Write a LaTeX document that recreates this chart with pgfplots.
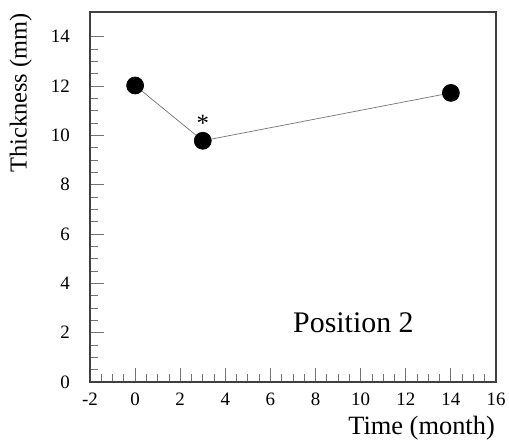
\documentclass[border=0pt]{standalone}
\usepackage{fontspec}
\setmainfont{Liberation Serif}
\usepackage{pgfplots}
\pgfplotsset{compat=1.18}
\newcommand\tlfont{\fontsize{19}{19}\selectfont}
\begin{document}
\begin{tikzpicture}
\begin{axis}[
  name=ax, scale only axis, width=406bp, height=370bp,
  xmin=-2, xmax=16, ymin=0, ymax=15,
  xtick={-2,0,...,16}, ytick={0,2,...,14},
  minor x tick num=3, minor y tick num=3,
  tick pos=left, tick align=inside,
  major tick length=14bp, minor tick length=8bp,
  every tick/.style={black!55, line width=0.8bp},
  axis line style={black!75, line width=1.3bp},
  /pgf/number format/assume math mode=true,
  xticklabel={\tlfont\pgfmathprintnumber{\tick}},
  yticklabel={\tlfont\pgfmathprintnumber{\tick}},
  tick label style={inner sep=0pt},
  xticklabel style={anchor=north, yshift=-11bp},
  yticklabel style={anchor=east, xshift=-20bp},
  clip=false,
]
\addplot[black!55, line width=0.7bp, mark=*, mark size=8.5bp,
  mark options={fill=black, draw=black, solid}]
  coordinates {(0,12.02) (3,9.78) (14,11.72)};
\node[anchor=base, font=\fontsize{25}{25}\selectfont] at (axis cs:3,10.15) {*};
\node[anchor=base west, inner sep=0pt, font=\fontsize{30}{30}\selectfont] at (axis cs:7.0,1.99) {Position 2};
\end{axis}
\node[rotate=90, anchor=south east, inner sep=0pt, font=\fontsize{24.5}{24.5}\selectfont]
  at ([xshift=-58bp, yshift=-1bp]ax.north west) {Thickness (mm)};
\node[anchor=north east, inner sep=0pt, font=\fontsize{26.5}{26.5}\selectfont]
  at ([xshift=-1bp, yshift=-34bp]ax.south east) {Time (month)};
\pgfresetboundingbox
\path[use as bounding box] ([shift={(-90bp,-60bp)}]ax.south west) rectangle ([shift={(13bp,12bp)}]ax.north east);
\end{tikzpicture}
\end{document}
